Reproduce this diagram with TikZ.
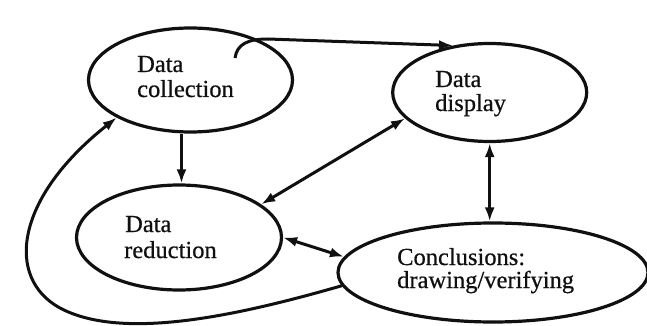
\documentclass[tikz,border=0pt]{standalone}
\usepackage{fontspec}
\setmainfont{Liberation Serif}
\newfontfamily\lblfont[FakeBold=0.6]{Liberation Serif}
\usetikzlibrary{arrows.meta,shapes.geometric}
\definecolor{ink}{HTML}{101010}
\tikzset{
  ell/.style={draw=ink, line width=3.2pt, ellipse, inner sep=0pt},
  lbl/.style={anchor=base west, inner sep=0pt, text=ink, font=\lblfont\fontsize{24.5}{24}\selectfont},
  conn/.style={draw=ink, line width=3pt, -{Latex[length=14pt,width=10pt]}},
  dconn/.style={draw=ink, line width=3pt, {Latex[length=14pt,width=10pt]}-{Latex[length=14pt,width=10pt]}}
}
\begin{document}
\begin{tikzpicture}[x=1pt,y=-1pt]
\useasboundingbox (0,0) rectangle (647,326);
\fill[white] (0,0) rectangle (647,326);
% ellipses
\node[ell, minimum width=204pt, minimum height=104pt] (col) at (190.5,80) {};
\node[ell, minimum width=194pt, minimum height=98pt] (disp) at (489.7,92.5) {};
\node[ell, minimum width=205pt, minimum height=105pt] (red) at (179,237.5) {};
\node[ell, minimum width=310pt, minimum height=99pt] (conc) at (493,272.5) {};
% labels
\node[lbl] (colA) at (137,72) {Data};
\node[lbl] (colB) at (137,97) {collection};
\node[lbl] (dispA) at (435,87) {Data};
\node[lbl] (dispB) at (435,111) {display};
\node[lbl] (redA) at (125,232) {Data};
\node[lbl] (redB) at (124,258) {reduction};
\node[lbl] (concA) at (397,265) {Conclusions:};
\node[lbl] (concB) at (397,288) {drawing/verifying};
% connectors
\coordinate (cstart) at (235,58);
\draw[conn] (cstart) .. controls (237,44) and (248,39) .. (268,39) -- (disp.128);
\draw[conn] ([xshift=-9pt]col.south) -- ([xshift=2.5pt]red.north);
\draw[dconn] (red.22) -- (disp.197);
\draw[dconn] (disp.south) -- (disp.south |- conc.north);
\draw[dconn] (red.east) -- (conc.174);
\draw[conn] (conc.185) .. controls (230,318) and (120,340) .. (60,308)
  .. controls (5,278) and (15,198) .. (col.207);
\end{tikzpicture}
\end{document}
